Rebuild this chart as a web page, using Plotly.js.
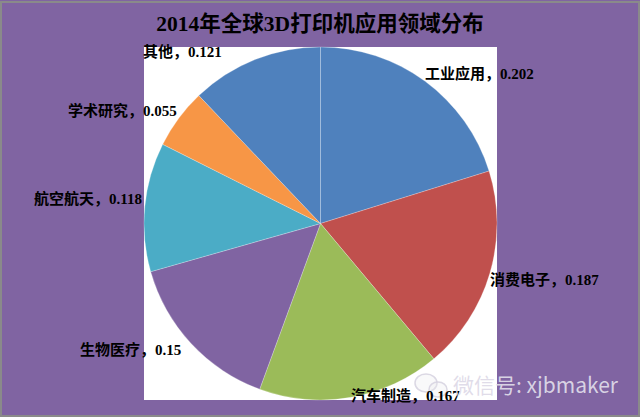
<!DOCTYPE html>
<html><head><meta charset="utf-8">
<script src="https://cdn.plot.ly/plotly-3.0.1.min.js"></script>
<style>html,body{margin:0;padding:0;background:#8064a2}#c{width:640px;height:417px}</style>
</head><body><div id="c"></div>
<script>
const titleText = '2014年全球3D打印机应用领域分布';
const categories = ['工业应用','消费电子','汽车制造','生物医疗','航空航天','学术研究','其他'];
const shares = [0.202,0.187,0.167,0.15,0.118,0.055,0.121];
const sliceColors = ['#4f81bd','#c0504d','#9bbb59','#8064a2','#4bacc6','#f79646','#4f81bd'];
const labelX = [423,488,349,78,32,66,141];
const labelY = [73,279,395,349,199,110,51];
const W=640,H=417;
const px=x=>x/W, py=y=>1-y/H;
const ann = categories.map((c,i)=>({
  text:c+'，'+shares[i], x:px(labelX[i]), y:py(labelY[i]), xref:'paper', yref:'paper',
  xanchor:'left', yanchor:'middle', showarrow:false,
  font:{family:'"Liberation Serif","Noto Sans CJK SC",serif',size:15,color:'#000',weight:700}
}));
ann.push({text:'微信号: xjbmaker',x:px(451),y:py(384),xref:'paper',yref:'paper',xanchor:'left',yanchor:'middle',showarrow:false,
  font:{family:'"Noto Sans CJK SC","Noto Sans",sans-serif',size:21,color:'rgba(222,218,232,0.95)'}});
const trace={type:'pie',labels:categories,values:shares,sort:false,direction:'clockwise',rotation:0,
  marker:{colors:sliceColors,line:{color:'rgba(255,255,255,0.4)',width:0.6}},
  textinfo:'none',hoverinfo:'label+value',showlegend:false,
  domain:{x:[px(144),px(497)],y:[py(400),py(47)]}};
const layout={width:W,height:H,margin:{l:0,r:0,t:0,b:0},paper_bgcolor:'#8064a2',showlegend:false,
  title:{text:titleText,x:0.5,xanchor:'center',y:py(23),yanchor:'middle',
    font:{family:'"Liberation Serif","Noto Sans CJK SC",serif',size:21.5,color:'#000',weight:700}},
  annotations:ann,
  shapes:[
    {type:'rect',layer:'below',xref:'paper',yref:'paper',x0:px(144),x1:px(497),y0:py(400),y1:py(47),fillcolor:'#fff',line:{width:0}},
    {type:'rect',layer:'above',xref:'paper',yref:'paper',x0:px(1),x1:px(639),y0:py(416),y1:py(2),fillcolor:'rgba(0,0,0,0)',line:{color:'#8a8a8a',width:2}},
    {type:'circle',layer:'above',xref:'paper',yref:'paper',x0:px(415),x1:px(437),y0:py(392),y1:py(374),fillcolor:'rgba(235,235,240,0.3)',line:{color:'rgba(215,212,225,0.9)',width:1.5}},
    {type:'circle',layer:'above',xref:'paper',yref:'paper',x0:px(429),x1:px(447),y0:py(397),y1:py(382),fillcolor:'rgba(235,235,240,0.3)',line:{color:'rgba(215,212,225,0.9)',width:1.5}}
  ]};
Plotly.newPlot('c',[trace],layout,{displayModeBar:false,staticPlot:true});
</script></body></html>
